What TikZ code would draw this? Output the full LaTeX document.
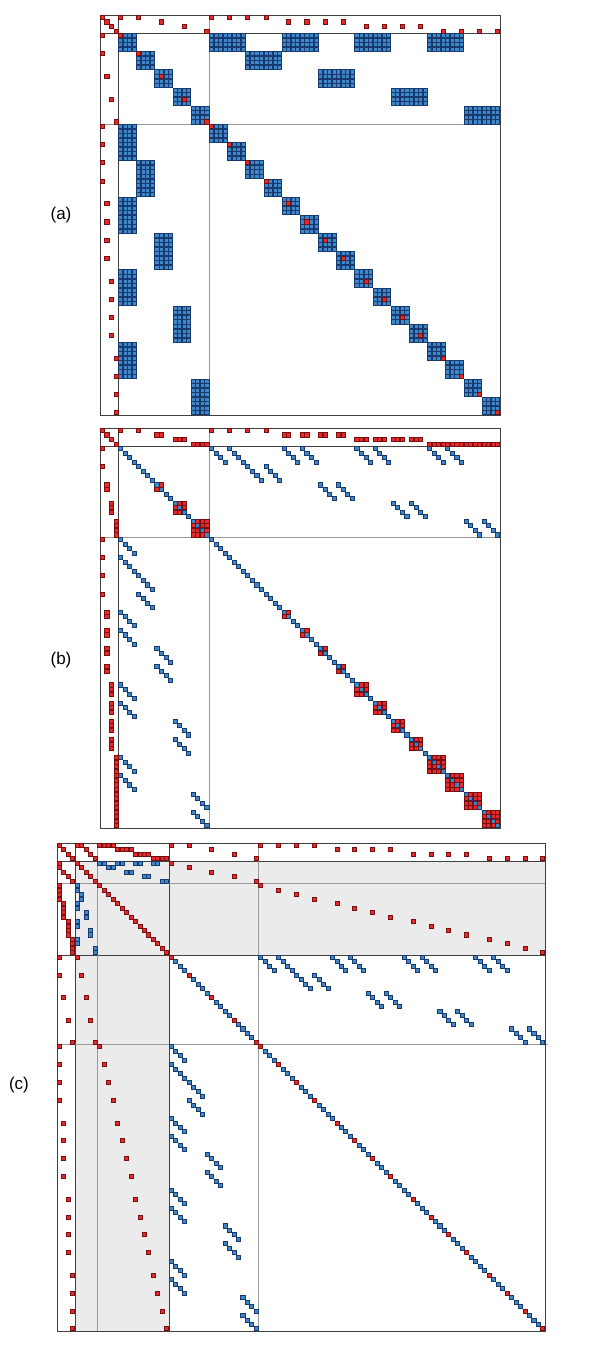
\documentclass[tikz,border=0pt]{standalone}
\usepackage{fontspec}
\setmainfont{Liberation Sans}
\definecolor{cb}{HTML}{3F87C9}
\definecolor{cbe}{HTML}{173A6E}
\definecolor{cr}{HTML}{E42A2A}
\definecolor{cre}{HTML}{7A0E0E}
\definecolor{graybg}{HTML}{EBEBEB}
\definecolor{darkline}{HTML}{404040}
\definecolor{lightline}{HTML}{999999}
\tikzset{
 bcell/.style={fill=cb,draw=cbe,line width=0.6pt},
 rcell/.style={fill=cr,draw=cre,line width=0.6pt},
 frameline/.style={draw=darkline,line width=0.8pt},
 sepdark/.style={draw=darkline,line width=0.8pt},
 seplight/.style={draw=lightline,line width=0.8pt},
 panellabel/.style={font=\fontsize{17}{20}\selectfont, inner sep=0pt},
}
\newcommand\BC[2]{\path[bcell] (#2+0.05,#1+0.05) rectangle ++(0.9,0.9);}
\newcommand\RC[2]{\path[rcell] (#2+0.05,#1+0.05) rectangle ++(0.9,0.9);}
\newcommand\SBC[2]{\BC{#1}{#2}\BC{#2}{#1}}
\newcommand\SRC[2]{\RC{#1}{#2}\RC{#2}{#1}}
\newcommand\couplings{0/0,0/1,0/4,0/5,0/8,0/9,0/12,0/13,1/2,1/3,2/6,2/7,3/10,3/11,4/14,4/15}
\newcommand\blocks{4/0,8/0,12/1,16/2,20/3,24/0,28/0,32/0,36/0,40/1,44/1,48/1,52/1,56/2,60/2,64/2,68/2,72/3,76/3,80/3,84/3}
\begin{document}
\begin{tikzpicture}[x=1pt,y=-1pt]
\fill[white] (0,0) rectangle (600,1350);
\useasboundingbox (0,0) rectangle (600,1350);
% labels
\node[panellabel] (la) at (61,215) {(a)};
\node[panellabel] (lb) at (61,660) {(b)};
\node[panellabel] (lc) at (19,1085) {(c)};
% ---------- panel (a)
\begin{scope}[shift={(100pt,-15pt)},x=4.545pt,y=-4.545pt]
 \draw[sepdark] (4,0)--(4,88) (0,4)--(88,4);
 \draw[seplight] (24,0)--(24,88) (0,24)--(88,24);
 \draw[frameline] (0,0) rectangle (88,88);
 \foreach \s/\g in \blocks {\foreach \a in {0,...,3}{\foreach \b in {0,...,3}{\BC{\s+\a}{\s+\b}}}}
 \foreach \c/\k in \couplings {\foreach \a in {0,...,3}{\foreach \b in {0,...,3}{\SBC{4+4*\c+\a}{24+4*\k+\b}}}}
 \foreach \i in {0,...,3}{\RC{\i}{\i}}
 \foreach \s/\g in \blocks {\SRC{\g}{\s+\g}\RC{\s+\g}{\s+\g}}
\end{scope}
% ---------- panel (b)
\begin{scope}[shift={(100pt,-428pt)},x=4.545pt,y=-4.545pt]
 \draw[sepdark] (4,0)--(4,88) (0,4)--(88,4);
 \draw[seplight] (24,0)--(24,88) (0,24)--(88,24);
 \draw[frameline] (0,0) rectangle (88,88);
 \foreach \i in {4,...,87}{\BC{\i}{\i}}
 \foreach \c/\k in \couplings {\foreach \j in {0,...,3}{\SBC{4+4*\c+\j}{24+4*\k+\j}}}
 \foreach \i in {0,...,3}{\RC{\i}{\i}}
 \foreach \s/\g in \blocks {\foreach \j in {0,...,\g}{\SRC{\g}{\s+\j}%
    \foreach \jj in {0,...,\g}{\ifnum\j=\jj\else\RC{\s+\j}{\s+\jj}\fi}}}
\end{scope}
% ---------- panel (c)
\begin{scope}[shift={(57pt,-843pt)},x=4.477pt,y=-4.477pt]
 \fill[graybg] (4,4) rectangle (109,25);
 \fill[graybg] (4,4) rectangle (25,109);
 \draw[sepdark] (4,0)--(4,109) (0,4)--(109,4) (25,0)--(25,109) (0,25)--(109,25);
 \draw[seplight] (9,0)--(9,109) (0,9)--(109,9) (45,0)--(45,109) (0,45)--(109.6,45);
 \draw[frameline] (0,0) rectangle (109,109);
 \foreach \i in {25,...,108}{\BC{\i}{\i}}
 \foreach \c/\k in \couplings {\SBC{4+\c}{9+\k}\foreach \j in {0,...,3}{\SBC{25+4*\c+\j}{45+4*\k+\j}}}
 \foreach \i in {0,...,24}{\RC{\i}{\i}}
 \foreach \c/\g in {0/0,1/0,2/1,3/2,4/3}{\SRC{\g}{4+\c}\SRC{\g}{25+4*\c+\g}\SRC{4+\c}{25+4*\c+\g}\RC{25+4*\c+\g}{25+4*\c+\g}}
 \foreach \k in {0,...,15}{\pgfmathtruncatemacro\g{\k/4}\SRC{\g}{9+\k}\SRC{\g}{45+4*\k+\g}\SRC{9+\k}{45+4*\k+\g}\RC{45+4*\k+\g}{45+4*\k+\g}}
\end{scope}
\end{tikzpicture}
\end{document}
